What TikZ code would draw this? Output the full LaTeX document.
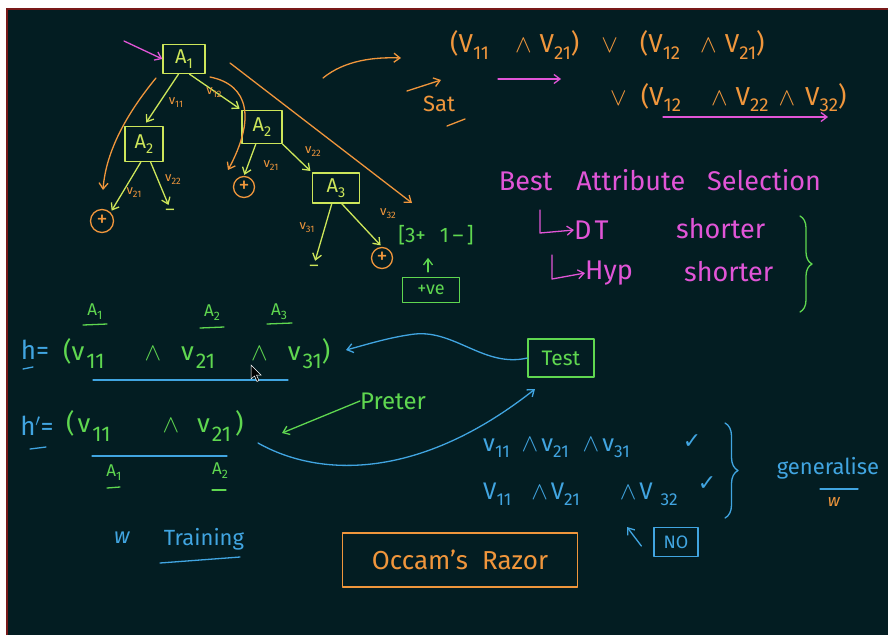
\documentclass[tikz,border=0pt]{standalone}
\usepackage{fontspec}
\usepackage{graphicx}
\setmainfont{Fira Sans}
\newfontfamily\symf{DejaVu Sans}
\usetikzlibrary{arrows.meta,decorations.pathreplacing,calc}
\definecolor{bg}{RGB}{3,29,34}
\definecolor{treec}{RGB}{205,230,90}
\definecolor{orc}{RGB}{240,150,60}
\definecolor{mag}{RGB}{225,85,215}
\definecolor{grn}{RGB}{95,215,80}
\definecolor{blu}{RGB}{65,165,225}
\definecolor{redl}{RGB}{120,25,25}
\newcommand\lowsub[1]{\raisebox{-0.45ex}{\scalebox{0.72}{#1}}}
\newcommand\bigsub[1]{\hspace{2pt}\raisebox{-0.6ex}{\scalebox{0.82}{#1}}}
\newcommand\gap[1]{\hspace{#1pt}}
\tikzset{
  pen/.style={line width=1.3pt, line cap=round, line join=round},
  barb/.style={-{Straight Barb[length=6pt,width=9pt]}},
  tbox/.style={draw=treec, pen, text=treec, inner sep=0pt, font=\fontsize{20}{20}\selectfont},
  tarr/.style={draw=treec, pen, barb},
  lab/.style={text=orc, inner sep=0pt, font=\fontsize{13}{13}\selectfont},
  leafp/.style={circle, draw=orc, pen, text=orc, minimum size=21pt, inner sep=0pt, font=\fontsize{22}{22}\selectfont},
  leafm/.style={text=treec, inner sep=0pt, font=\fontsize{18}{18}\selectfont},
  oarr/.style={draw=orc, pen, barb},
  otext/.style={text=orc, inner sep=0pt, font=\fontsize{26}{26}\selectfont},
  mtext/.style={text=mag, inner sep=0pt, font=\fontsize{27}{27}\selectfont},
  marr/.style={draw=mag, pen, barb},
  gtext/.style={text=grn, inner sep=0pt, font=\fontsize{26}{26}\selectfont},
  gsmall/.style={text=grn, inner sep=0pt, font=\fontsize{17}{17}\selectfont},
  gbox/.style={draw=grn, pen, text=grn, inner sep=0pt},
  garr/.style={draw=grn, pen, barb},
  btext/.style={text=blu, inner sep=0pt, font=\fontsize{24}{24}\selectfont},
  bline/.style={draw=blu, pen},
  barr/.style={draw=blu, pen, barb},
}
\begin{document}
\begin{tikzpicture}[x=1pt,y=-1pt]
\useasboundingbox (0,0) rectangle (888,635);
\fill[white] (0,0) rectangle (888,635);
\fill[bg] (7,9) rectangle (888,635);
\draw[redl, line width=2pt] (7,635) -- (7,9) -- (888,9);

% ---------- decision tree ----------
\node[tbox, minimum width=42pt, minimum height=29pt] (A1) at (184,59) {A\lowsub{1}};
\node[tbox, minimum width=38pt, minimum height=35pt] (A2L) at (144,144) {A\lowsub{2}};
\node[tbox, minimum width=40pt, minimum height=33pt] (A2R) at (262,127) {A\lowsub{2}};
\node[tbox, minimum width=47pt, minimum height=30pt] (A3) at (336,188) {A\lowsub{3}};
\node[leafp, minimum size=23pt] (pL) at (102,221) {+};
\node[leafp] (pM) at (244,187) {+};
\node[leafp] (pR) at (382,258) {+};
\node[leafm] (mL) at (170,212) {–};
\node[leafm] (mR) at (314,268) {–};

\coordinate (in) at (124,41);
\draw[marr] (in) -- (A1.west);

\draw[tarr, shorten >=4pt] (A1.250) -- (A2L.north);
\draw[tarr, shorten >=2pt] (A1.290) -- (A2R.north west);
\draw[tarr, shorten >=2pt] (A2L.260) -- (pL.north east);
\draw[tarr, shorten >=4pt] (A2L.290) -- (mL.north);
\draw[tarr, shorten >=1pt] (A2R.250) -- (pM.north);
\draw[tarr, shorten >=2pt] (A2R.south east) -- (A3.north west);
\draw[tarr, shorten >=4pt] (A3.255) -- (mR.north);
\draw[tarr, shorten >=2pt] (A3.290) -- (pR.north);

\node[lab] (l11) at (176,103) {v\lowsub{11}};
\node[lab] (l12) at (214,93) {v\lowsub{12}};
\node[lab] (l21a) at (134,193) {v\lowsub{21}};
\node[lab] (l22a) at (173,180) {v\lowsub{22}};
\node[lab] (l21b) at (271,166) {v\lowsub{21}};
\node[lab] (l22b) at (313,152) {v\lowsub{22}};
\node[lab] (l31) at (307,228) {v\lowsub{31}};
\node[lab] (l32) at (388,214) {v\lowsub{32}};

% orange traversal strokes
\coordinate (o1s) at (156,78);
\coordinate (o1e) at (103,190);
\draw[oarr] (o1s) .. controls (128,112) and (106,150) .. (o1e);
\coordinate (o2s) at (210,77);
\coordinate (o2e) at (228,170);
\draw[oarr] (o2s) .. controls (250,85) and (255,120) .. (o2e);
\coordinate (o3s) at (230,63);
\coordinate (o3e) at (412,203);
\draw[oarr] (o3s) -- (o3e);

% counts
\node[gtext, font=\fontsize{21}{21}\selectfont] (cnt) at (436,235) {[3+\gap{14}1\,–\,]};
\node[gbox, minimum width=57pt, minimum height=25pt, font=\fontsize{18}{18}\selectfont] (pve) at (431,290) {+ve};
\draw[garr] (pve.north) ++(-3,-5) coordinate (up1) -- ++(0,-14) coordinate (up2);

% ---------- rules ----------
\coordinate (c1s) at (323,78);
\coordinate (c1e) at (401,58);
\draw[oarr] (c1s) .. controls (345,60) and (375,57) .. (c1e);
\coordinate (c2s) at (407,91);
\coordinate (c2e) at (441,80);
\draw[oarr] (c2s) -- (c2e);
\node[otext, font=\fontsize{22}{22}\selectfont] (sat) at (439,104) {Sat};
\draw[draw=orc, pen] (447,126) -- (465,119);

\node[otext, anchor=west] (f1) at (450,45) {(V\lowsub{11}\gap{26}$\wedge$\gap{8}V\lowsub{21})\gap{22}$\vee$\gap{22}(V\lowsub{12}\gap{20}$\wedge$\gap{8}V\lowsub{21})};
\node[otext, anchor=west] (f2) at (610,98) {$\vee$\gap{14}(V\lowsub{12}\gap{30}$\wedge$\gap{8}V\lowsub{22}\gap{10}$\wedge$\gap{10}V\lowsub{32})};
\coordinate (m1s) at (498,79);
\coordinate (m1e) at (561,79);
\draw[marr] (m1s) -- (m1e);
\coordinate (m2s) at (663,117);
\coordinate (m2e) at (828,117);
\draw[marr] (m2s) -- (m2e);

% ---------- best attribute selection ----------
\node[mtext] (bas) at (660,180) {Best\gap{24}Attribute\gap{22}Selection};
\node[mtext, anchor=west] (dt) at (574,230) {D\gap{3}T};
\node[mtext, anchor=west] (dts) at (676,229) {shorter};
\node[mtext, anchor=west] (hyp) at (585,273) {Hyp};
\node[mtext, anchor=west] (hyps) at (684,272) {shorter};
\draw[marr] (540,210) -- (540,233) -- (dt.west);
\draw[marr] (552,255) -- (552,279) -- (hyp.west);
\coordinate (gb1) at (800,216);
\coordinate (gb2) at (800,312);
\draw[draw=grn, pen, decorate, decoration={brace, amplitude=12pt}] (gb1) -- (gb2);

% ---------- hypotheses ----------
\node[gsmall] (hA1) at (95,312) {A\lowsub{1}};
\node[gsmall] (hA2) at (212,313) {A\lowsub{2}};
\node[gsmall] (hA3) at (279,312) {A\lowsub{3}};
\draw[draw=grn, pen] (83,325) -- (107,324);
\draw[draw=grn, pen] (200,328) -- (224,327);
\draw[draw=grn, pen] (267,324) -- (292,323);

\node[btext, font=\fontsize{26}{26}\selectfont] (h) at (35,350) {h=};
\draw[bline] (23,369) -- (33,367);
\node[gtext, anchor=west] (hf) at (63,354) {(v\bigsub{11}\gap{40}$\wedge$\gap{20}v\bigsub{21}\gap{36}$\wedge$\gap{20}v\bigsub{31})};
\draw[bline] (93,380) -- (288,380);

\node[btext, font=\fontsize{26}{26}\selectfont] (hp) at (37,426) {h$'$=};
\draw[bline] (30,449) -- (46,447);
\node[gtext, anchor=west] (hpf) at (66,426) {(\gap{3}v\bigsub{11}\gap{52}$\wedge$\gap{18}v\bigsub{21}\gap{4})};
\draw[bline] (92,456) -- (227,456);
\node[gsmall] (pA1) at (114,473) {A\lowsub{1}};
\node[gsmall] (pA2) at (220,471) {A\lowsub{2}};
\draw[draw=grn, pen] (107,488) -- (120,487);
\draw[draw=grn, pen] (212,490) -- (226,490);

% cursor
\draw[white, fill=black, line width=0.5pt] (251,365) -- (251,379) -- (254.5,376) -- (257,381.5) -- (259,380.5) -- (256.5,375) -- (261,375) -- cycle;

\node[gbox, minimum width=66pt, minimum height=38pt, font=\fontsize{21}{21}\selectfont] (test) at (561,358) {Test};
\coordinate (ta) at (346,350);
\draw[barr] (test.west) .. controls (485,368) and (455,330) .. (415,334) .. controls (390,337) and (365,345) .. (ta);

\node[gtext, font=\fontsize{24}{24}\selectfont] (pref) at (393,401) {Preter};
\coordinate (pa) at (282,433);
\draw[garr] (pref.west) -- (pa);

\coordinate (bs) at (258,443);
\draw[barr] (bs) .. controls (320,478) and (420,480) .. (535,389);

% ---------- test results ----------
\node[btext, anchor=west] (r1) at (483,448) {v\lowsub{11}\gap{12}$\wedge$\gap{3}v\lowsub{21}\gap{14}$\wedge$\gap{3}v\lowsub{31}};
\node[btext, anchor=west] (r2) at (483,494) {V\lowsub{11}\gap{20}$\wedge$\gap{3}V\lowsub{21}\gap{40}$\wedge$\gap{3}V\gap{8}\lowsub{32}};
\node[btext, font=\symf\fontsize{22}{22}\selectfont] (ck1) at (692,442) {✓};
\node[btext, font=\symf\fontsize{22}{22}\selectfont] (ck2) at (707,484) {✓};
\coordinate (bb1) at (725,423);
\coordinate (bb2) at (725,518);
\draw[bline, decorate, decoration={brace, amplitude=13pt}] (bb1) -- (bb2);
\node[btext, font=\fontsize{22}{22}\selectfont] (gen) at (828,468) {generalise};
\draw[bline] (820,489) -- (858,489);
\node[otext, font=\fontsize{17}{17}\selectfont\itshape] (gw) at (834,502) {w};

\node[draw=blu, pen, text=blu, inner sep=0pt, minimum width=44pt, minimum height=29pt, font=\fontsize{18}{18}\selectfont] (no) at (676,542) {NO};
\coordinate (na) at (627,527);
\draw[barr] (no.west) ++(-12,4) -- (na);

% ---------- training / Occam ----------
\node[btext, font=\fontsize{22}{22}\selectfont\itshape] (tw) at (122,538) {w};
\node[btext, font=\fontsize{22}{22}\selectfont] (train) at (204,539) {Training};
\draw[bline] (160,563) -- (240,557);

\node[draw=orc, pen, text=orc, inner sep=0pt, minimum width=235pt, minimum height=54pt, font=\fontsize{26}{26}\selectfont] (occ) at (460,560) {Occam's\gap{14}Razor};
\end{tikzpicture}
\end{document}
